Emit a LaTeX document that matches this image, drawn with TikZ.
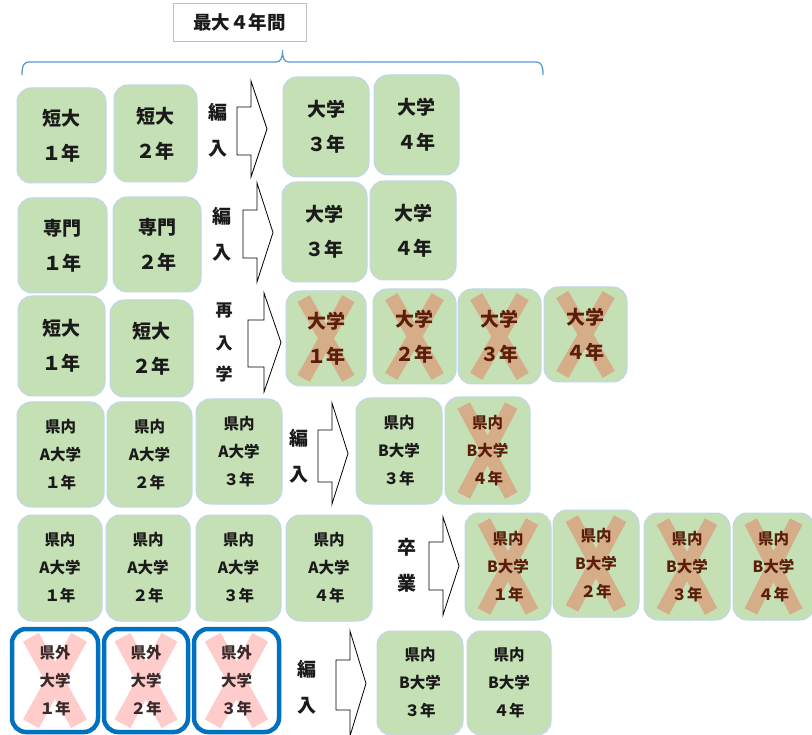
\documentclass[tikz,border=0pt]{standalone}
\usepackage{fontspec}
\newfontfamily\jp{Noto Sans CJK JP}
\usetikzlibrary{calc}
\definecolor{gfill}{HTML}{C5E0B4}
\definecolor{gline}{HTML}{BDD7EE}
\definecolor{xbrown}{HTML}{D5AD88}
\definecolor{xpink}{HTML}{FFCCCC}
\definecolor{bblue}{HTML}{0070C0}
\definecolor{bracec}{HTML}{5B9BD5}
\definecolor{tdark}{HTML}{1A1A1A}
\definecolor{tred}{HTML}{5A1E0A}
\definecolor{tpink}{HTML}{3A2A2A}
\definecolor{tgray}{HTML}{BFBFBF}
\tikzset{
  bigtext/.style={font=\jp\bfseries\fontsize{19pt}{35pt}\selectfont},
  smalltext/.style={font=\jp\bfseries\fontsize{15.5pt}{28pt}\selectfont},
  gbox/.style={draw=gline, line width=1pt, fill=gfill, rounded corners=14pt,
    inner sep=0pt, outer sep=0pt, align=center, text=tdark},
  wbox/.style={draw=bblue, line width=4.5pt, fill=white, rounded corners=14pt,
    inner sep=0pt, outer sep=0pt, align=center, text=tpink},
  xcross/.style 2 args={path picture={
    \draw[#1, line width=#2, line cap=butt, sharp corners]
      let \p1=(path picture bounding box.south west),
          \p2=(path picture bounding box.north east),
          \n1={0.5*(\x1+\x2)}, \n2={0.28*(\x2-\x1)}, \n3={0.08*(\y2-\y1)} in
      ({(\n1-\n2)*1pt},{\y2-\n3*1pt}) -- ({(\n1+\n2)*1pt},{\y1+\n3*1pt})
      ({(\n1+\n2)*1pt},{\y2-\n3*1pt}) -- ({(\n1-\n2)*1pt},{\y1+\n3*1pt});}},
  brownx/.style={xcross={xbrown}{14pt}, text=tred},
  pinkx/.style={xcross={xpink}{18pt}},
  lbl/.style={font=\jp\bfseries\fontsize{19pt}{19pt}\selectfont, inner sep=0pt, text=tdark},
  lbls/.style={font=\jp\bfseries\fontsize{17pt}{17pt}\selectfont, inner sep=0pt, text=tdark},
  barrow/.style={draw=black, line width=0.8pt, fill=white, line join=miter},
  titlebox/.style={draw=tgray, line width=0.8pt, fill=white, inner sep=0pt,
    font=\jp\bfseries\fontsize{18.5pt}{20pt}\selectfont, text=tdark},
}
% name, x1, y1, x2, y2, style, text
\newcommand\mkbox[7]{%
  \node[#6, minimum width={(#4-#2)*1pt}, minimum height={(#5-#3)*1pt}]
    (#1) at ({(#2+#4)/2},{(#3+#5)/2}) {#7};}
% xl, xm, tip, rect top, rect bottom, head top, head bottom
\newcommand\blkarrow[7]{%
  \draw[barrow] (#1,#4) -- (#2,#4) -- (#2,#6) -- (#3,{(#6+#7)/2})
    -- (#2,#7) -- (#2,#5) -- (#1,#5) -- cycle;}
\begin{document}
\begin{tikzpicture}[x=1pt,y=-1pt]
\fill[white] (0,0) rectangle (812,735);
\useasboundingbox (0,0) rectangle (812,735);

% title and brace
\mkbox{title}{173}{3}{306}{41}{titlebox}{最大４年間}
\draw[bracec, line width=1.3pt] (22,75) .. controls (22,66) and (23,62) .. (30,62)
  -- (276,62) .. controls (281,62) and (282.5,58) .. (282.5,50)
  .. controls (282.5,58) and (284,62) .. (289,62)
  -- (535,62) .. controls (542,62) and (543,66) .. (543,75);

% row 1
\mkbox{r1a}{17}{88}{106}{183}{gbox,bigtext}{短大\\１年}
\mkbox{r1b}{114}{85}{197}{182}{gbox,bigtext}{短大\\２年}
\node[lbl] (l1a) at (218,112) {編};
\node[lbl] (l1b) at (218,149) {入};
\blkarrow{237}{251}{267}{107}{155}{81}{177}
\mkbox{r1c}{283}{77}{369}{177}{gbox,bigtext}{大学\\３年}
\mkbox{r1d}{374}{75}{459}{175}{gbox,bigtext}{大学\\４年}

% row 2
\mkbox{r2a}{18}{198}{107}{293}{gbox,bigtext}{専門\\１年}
\mkbox{r2b}{113}{197}{201}{292}{gbox,bigtext}{専門\\２年}
\node[lbl] (l2a) at (222,216) {編};
\node[lbl] (l2b) at (222,253) {入};
\blkarrow{243}{257}{273}{210}{258}{183}{282}
\mkbox{r2c}{282}{182}{367}{282}{gbox,bigtext}{大学\\３年}
\mkbox{r2d}{370}{181}{456}{280}{gbox,bigtext}{大学\\４年}

% row 3
\mkbox{r3a}{18}{296}{105}{396}{gbox,bigtext}{短大\\１年}
\mkbox{r3b}{110}{300}{193}{397}{gbox,bigtext}{短大\\２年}
\node[lbls] (l3a) at (224,310) {再};
\node[lbls] (l3b) at (224,343) {入};
\node[lbls] (l3c) at (224,374) {学};
\blkarrow{248}{264}{281}{320}{367}{293}{392}
\mkbox{r3c}{286}{291}{366}{386}{gbox,brownx,bigtext}{大学\\１年}
\mkbox{r3d}{373}{289}{456}{384}{gbox,brownx,bigtext}{大学\\２年}
\mkbox{r3e}{458}{289}{541}{384}{gbox,brownx,bigtext}{大学\\３年}
\mkbox{r3f}{544}{287}{627}{382}{gbox,brownx,bigtext}{大学\\４年}

% row 4
\mkbox{r4a}{17}{402}{104}{507}{gbox,smalltext}{県内\\A大学\\１年}
\mkbox{r4b}{107}{402}{192}{507}{gbox,smalltext}{県内\\A大学\\２年}
\mkbox{r4c}{196}{399}{282}{504}{gbox,smalltext}{県内\\A大学\\３年}
\node[lbl] (l4a) at (299,438) {編};
\node[lbl] (l4b) at (299,475) {入};
\blkarrow{318}{332}{348}{430}{482}{403}{504}
\mkbox{r4d}{356}{398}{442}{504}{gbox,smalltext}{県内\\B大学\\３年}
\mkbox{r4e}{445}{397}{530}{504}{gbox,brownx,smalltext}{県内\\B大学\\４年}

% row 5
\mkbox{r5a}{18}{515}{102}{621}{gbox,smalltext}{県内\\A大学\\１年}
\mkbox{r5b}{106}{515}{190}{621}{gbox,smalltext}{県内\\A大学\\２年}
\mkbox{r5c}{196}{515}{281}{621}{gbox,smalltext}{県内\\A大学\\３年}
\mkbox{r5d}{286}{515}{372}{621}{gbox,smalltext}{県内\\A大学\\４年}
\node[lbl] (l5a) at (407,547) {卒};
\node[lbl] (l5b) at (407,583) {業};
\blkarrow{429}{443}{459}{542}{590}{517}{615}
\mkbox{r5e}{465}{513}{551}{620}{gbox,brownx,smalltext}{県内\\B大学\\１年}
\mkbox{r5f}{553}{510}{639}{617}{gbox,brownx,smalltext}{県内\\B大学\\２年}
\mkbox{r5g}{644}{513}{730}{620}{gbox,brownx,smalltext}{県内\\B大学\\３年}
\mkbox{r5h}{733}{513}{814}{620}{gbox,brownx,smalltext}{県内\\B大学\\４年}

% row 6
\mkbox{r6a}{12}{629}{98}{732}{wbox,pinkx,smalltext}{県外\\大学\\１年}
\mkbox{r6b}{104}{629}{188}{732}{wbox,pinkx,smalltext}{県外\\大学\\２年}
\mkbox{r6c}{194}{629}{279}{732}{wbox,pinkx,smalltext}{県外\\大学\\３年}
\node[lbl] (l6a) at (307,669) {編};
\node[lbl] (l6b) at (307,706) {入};
\blkarrow{336}{350}{366}{660}{710}{631}{736}
\mkbox{r6d}{377}{631}{463}{735}{gbox,smalltext}{県内\\B大学\\３年}
\mkbox{r6e}{467}{631}{551}{735}{gbox,smalltext}{県内\\B大学\\４年}
\end{tikzpicture}
\end{document}
